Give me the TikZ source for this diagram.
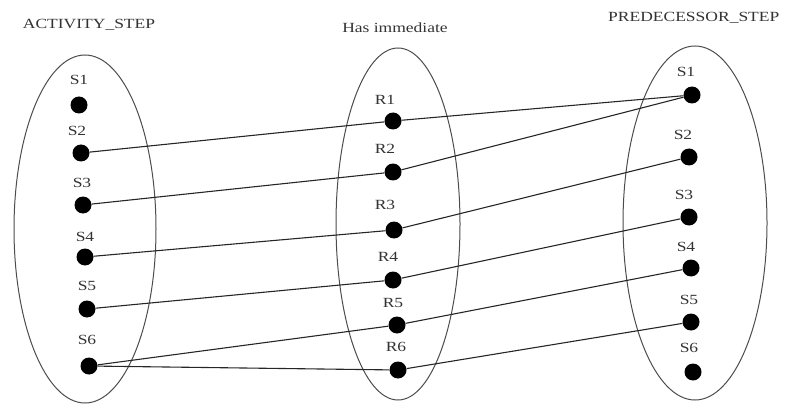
\documentclass[tikz,border=0pt]{standalone}
\usepackage{fontspec}
\setmainfont[FakeStretch=1.25]{Liberation Serif}
\begin{document}
\begin{tikzpicture}[x=1pt,y=-1pt,
  setell/.style={draw=black!70,line width=1pt},
  dot/.style={circle,fill=black,inner sep=0pt,minimum size=17pt},
  lab/.style={text=black!80,font=\fontsize{14}{14}\selectfont,inner sep=0pt},
  ttl/.style={text=black!80,font=\fontsize{14}{14}\selectfont,inner sep=0pt},
  link/.style={draw=black!85,line width=1.1pt}]
\useasboundingbox (0,0) rectangle (797,406);
% sets
\draw[setell] (85,229) ellipse [x radius=71,y radius=174];
\draw[setell] (398,224) ellipse [x radius=62,y radius=176];
\draw[setell] (695,223) ellipse [x radius=72,y radius=177];
% titles
\node[ttl] (tA) at (89,25) {ACTIVITY\_STEP};
\node[ttl] (tH) at (395,28) {Has immediate};
\node[ttl,anchor=west] (tP) at (608,18) {PREDECESSOR\_STEP};
% left dots
\node[dot] (a1) at (79,105) {};
\node[dot] (a2) at (81,153) {};
\node[dot] (a3) at (83,205) {};
\node[dot] (a4) at (85,257) {};
\node[dot] (a5) at (87,309) {};
\node[dot] (a6) at (89,366) {};
\node[lab] (la1) at (79,80) {S1};
\node[lab] (la2) at (77,131) {S2};
\node[lab] (la3) at (82,183) {S3};
\node[lab] (la4) at (85,237) {S4};
\node[lab] (la5) at (87,286) {S5};
\node[lab] (la6) at (87,340) {S6};
% middle dots
\node[dot] (r1) at (393,121) {};
\node[dot] (r2) at (393,172) {};
\node[dot] (r3) at (394,230) {};
\node[dot] (r4) at (393,280) {};
\node[dot] (r5) at (397,325) {};
\node[dot] (r6) at (398,370) {};
\node[lab] (lr1) at (385,100) {R1};
\node[lab] (lr2) at (385,149) {R2};
\node[lab] (lr3) at (385,205) {R3};
\node[lab] (lr4) at (388,257) {R4};
\node[lab] (lr5) at (393,303) {R5};
\node[lab] (lr6) at (396,347) {R6};
% right dots
\node[dot] (p1) at (692,95) {};
\node[dot] (p2) at (689,157) {};
\node[dot] (p3) at (689,217) {};
\node[dot] (p4) at (691,268) {};
\node[dot] (p5) at (691,322) {};
\node[dot] (p6) at (693,372) {};
\node[lab] (lp1) at (686,72) {S1};
\node[lab] (lp2) at (683,135) {S2};
\node[lab] (lp3) at (684,195) {S3};
\node[lab] (lp4) at (686,247) {S4};
\node[lab] (lp5) at (689,300) {S5};
\node[lab] (lp6) at (689,348) {S6};
% links
\draw[link] (a2) -- (r1) -- (p1);
\draw[link] (a3) -- (r2) -- (p1);
\draw[link] (a4) -- (r3) -- (p2);
\draw[link] (a5) -- (r4) -- (p3);
\draw[link] (a6) -- (r5) -- (p4);
\draw[link] (a6) -- (r6) -- (p5);
\end{tikzpicture}
\end{document}
